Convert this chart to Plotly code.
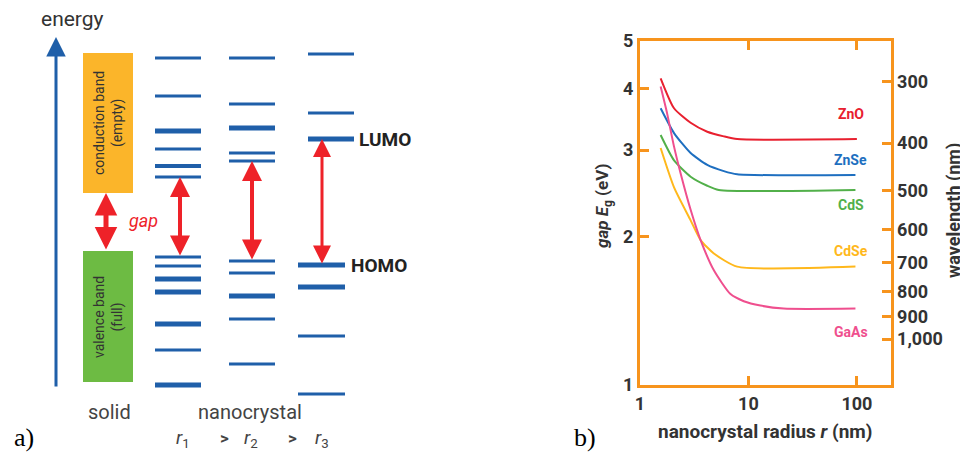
import math
import plotly.graph_objects as go

# ---------------- data: panel b (band gap vs radius) ----------------
zno_r = [1.55, 2.06, 2.93, 4.17, 5.93, 7.87, 100]
zno_e = [4.20, 3.65, 3.41, 3.27, 3.20, 3.16, 3.16]
znse_r = [1.55, 2.06, 2.93, 4.17, 5.93, 7.87, 97]
znse_e = [3.65, 3.25, 2.96, 2.80, 2.72, 2.68, 2.67]
cds_r = [1.55, 2.06, 2.93, 4.17, 5.33, 97]
cds_e = [3.22, 2.86, 2.65, 2.54, 2.49, 2.49]
cdse_r = [1.55, 2.06, 2.93, 3.62, 4.80, 7.87, 97]
cdse_e = [3.03, 2.52, 2.16, 1.97, 1.85, 1.74, 1.74]
gaas_r = [1.55, 1.78, 2.06, 2.37, 2.93, 3.62, 4.80, 6.83, 9.06, 12.9, 21.1, 97]
gaas_e = [4.04, 3.56, 3.05, 2.69, 2.27, 1.97, 1.71, 1.53, 1.48, 1.45, 1.43, 1.43]

materials = ["ZnO", "ZnSe", "CdS", "CdSe", "GaAs"]
colors = ["#e8202f", "#1e6fc0", "#52b04a", "#ffb81c", "#ef4f8e"]
series_r = [zno_r, znse_r, cds_r, cdse_r, gaas_r]
series_e = [zno_e, znse_e, cds_e, cdse_e, gaas_e]

gap_ticks = [1, 2, 3, 4, 5]
radius_ticks = [1, 10, 100]
wavelength_ticks = [300, 400, 500, 600, 700, 800, 900, 1000]
wavelength_labels = ["300", "400", "500", "600", "700", "800", "900", "1,000"]

# ---------------- data: panel a (energy levels, arbitrary units) ----------------
solid_conduction = [207, 347]
solid_valence = [18, 149]
r1_conduction = [342, 304, 269, 251, 234, 223]
r1_conduction_w = [3, 3, 5, 3, 4, 3]
r1_valence = [143, 134, 121, 108, 76, 50, 15]
r1_valence_w = [3, 3, 5, 5, 5, 3, 5]
r2_conduction = [342, 296, 272, 247, 239]
r2_conduction_w = [3, 3, 5, 3, 3]
r2_valence = [139, 127, 104, 81, 36]
r2_valence_w = [3, 3, 5, 3, 3]
r3_conduction = [346, 287, 261]
r3_conduction_w = [3, 3, 5]
r3_valence = [135, 113, 64, 6]
r3_valence_w = [5, 5, 3, 3]

BLUE = "#1f5fa9"
RED = "#ee2229"
ORANGE = "#f7941d"
TXT = "#333333"
FONT = "Roboto, sans-serif"

# page body has an 8px margin: the figure is drawn 8px right/down
W, H, OFF = 960, 447, 8


def px_x(X):
    return (X - OFF) / W


def px_y(Y):
    return (H - (Y - OFF)) / H


fig = go.Figure()

for name, col, rr, ee in zip(materials, colors, series_r, series_e):
    fig.add_trace(go.Scatter(x=rr, y=ee, mode="lines", name=name,
                             line=dict(color=col, width=2, shape="spline", smoothing=0.6),
                             showlegend=False, hoverinfo="skip", xaxis="x", yaxis="y"))

fig.add_trace(go.Scatter(x=[1], y=[1], mode="markers", marker=dict(opacity=0),
                         showlegend=False, hoverinfo="skip", xaxis="x", yaxis="y2"))
fig.add_trace(go.Scatter(x=[100], y=[0], mode="markers", marker=dict(opacity=0),
                         showlegend=False, hoverinfo="skip", xaxis="x2", yaxis="y3"))

tickfont = dict(family=FONT, size=18, color=TXT, weight="bold")
ydom = [px_y(385), px_y(41)]
yr = [0, math.log10(5)]

fig.update_layout(
    width=W, height=H,
    margin=dict(l=0, r=0, t=0, b=0, pad=0, autoexpand=False),
    showlegend=False,
    paper_bgcolor="white", plot_bgcolor="rgba(0,0,0,0)",
    xaxis=dict(type="log", domain=[px_x(640), px_x(890.5)], range=[0, 2.31],
               tickvals=radius_ticks, ticktext=["1", "10", "100"],
               ticks="inside", ticklen=9, tickwidth=3, tickcolor=ORANGE,
               showline=True, linecolor=ORANGE, linewidth=3, mirror="ticks",
               showgrid=False, zeroline=False, tickfont=tickfont, anchor="y", automargin=False),
    yaxis=dict(type="log", domain=ydom, range=yr,
               tickvals=gap_ticks, ticktext=[str(v) for v in gap_ticks],
               ticks="inside", ticklen=9, tickwidth=3, tickcolor=ORANGE,
               showline=True, linecolor=ORANGE, linewidth=3, mirror=True,
               showgrid=False, zeroline=False, tickfont=tickfont, anchor="x", automargin=False),
    yaxis2=dict(type="log", overlaying="y", side="right", range=yr, anchor="x",
                tickvals=[1240 / w for w in wavelength_ticks], ticktext=wavelength_labels,
                ticks="inside", ticklen=9, tickwidth=3, tickcolor=ORANGE,
                showline=True, linecolor=ORANGE, linewidth=3,
                showgrid=False, zeroline=False, tickfont=tickfont, automargin=False),
    # panel a: 1 axis unit = 1 pixel
    xaxis2=dict(domain=[0, 420 / W], range=[OFF, 420 + OFF], visible=False,
                anchor="y3", automargin=False),
    yaxis3=dict(domain=[0, 1], range=[400 - 455, 400 - OFF], visible=False,
                anchor="x2", automargin=False),
)

shapes = []
shapes.append(dict(type="rect", xref="x2", yref="y3", x0=83, x1=133,
                   y0=solid_conduction[0], y1=solid_conduction[1],
                   fillcolor="#fbb52a", line=dict(width=0), layer="below"))
shapes.append(dict(type="rect", xref="x2", yref="y3", x0=83, x1=133,
                   y0=solid_valence[0], y1=solid_valence[1],
                   fillcolor="#6dbb43", line=dict(width=0), layer="below"))


def levels(vals, widths, x0, x1):
    for v, w in zip(vals, widths):
        shapes.append(dict(type="line", xref="x2", yref="y3", x0=x0, x1=x1, y0=v, y1=v,
                           line=dict(color=BLUE, width=w)))


levels(r1_conduction, r1_conduction_w, 155, 201)
levels(r1_valence, r1_valence_w, 155, 201)
levels(r2_conduction, r2_conduction_w, 229, 275)
levels(r2_valence, r2_valence_w, 229, 275)
levels(r3_conduction, r3_conduction_w, 308, 354)
levels(r3_valence, r3_valence_w, 298, 345)
fig.update_layout(shapes=shapes)

ann = []


def arrow(x, y_from, y_to, color, width, both=True, size=1.0):
    ann.append(dict(xref="x2", yref="y3", axref="x2", ayref="y3",
                    x=x, y=y_to, ax=x, ay=y_from, text="", showarrow=True,
                    arrowhead=2, startarrowhead=2, arrowsize=size, startarrowsize=size,
                    arrowwidth=width, arrowcolor=color, standoff=0, startstandoff=0,
                    arrowside="end+start" if both else "end"))


arrow(56, 12, 363, BLUE, 3, both=False, size=1.3)
arrow(106, solid_valence[1], solid_conduction[0], RED, 5, size=0.9)
arrow(180, max(r1_valence), min(r1_conduction), RED, 4, size=1.0)
arrow(252, max(r2_valence), min(r2_conduction), RED, 4, size=1.0)
arrow(322, max(r3_valence), min(r3_conduction), RED, 3, size=1.2)


def text(x, y, s, size=17, color=TXT, xanchor="center", angle=0, family=FONT, weight="normal"):
    ann.append(dict(xref="x2", yref="y3", x=x, y=y, text=s, showarrow=False,
                    xanchor=xanchor, yanchor="middle", textangle=angle,
                    font=dict(family=family, size=size, color=color, weight=weight)))


text(72, 381, "energy", size=21)
text(143, 180, "<i>gap</i>", size=18, color=RED)
text(108, 277, "conduction band<br>(empty)", size=14, angle=-90)
text(108, 83, "valence band<br>(full)", size=14, angle=-90)
text(357, min(r3_conduction), "LUMO", size=19, color="#222222", xanchor="left", weight="bold")
text(349, max(r3_valence), "HOMO", size=19, color="#222222", xanchor="left", weight="bold")
text(109, -12, "solid", size=20, color="#444444")
text(250, -12, "nanocrystal", size=20, color="#444444")
text(183, -38, "<i>r</i><sub>1</sub>", size=19, color="#444444")
text(224, -38, "&gt;", size=17, color="#444444", weight="bold")
text(251, -38, "<i>r</i><sub>2</sub>", size=19, color="#444444")
text(292, -38, "&gt;", size=17, color="#444444", weight="bold")
text(322, -38, "<i>r</i><sub>3</sub>", size=19, color="#444444")


def ptext(X, Y, s, size, angle=0, family=FONT, weight="bold", color=TXT):
    ann.append(dict(xref="paper", yref="paper", x=px_x(X), y=px_y(Y), text=s,
                    showarrow=False, xanchor="center", yanchor="middle", textangle=angle,
                    font=dict(family=family, size=size, color=color, weight=weight)))


SERIF = "Liberation Serif, Times New Roman, serif"
ptext(24, 437, "a)", 26, family=SERIF, weight="normal", color="black")
ptext(585, 437, "b)", 26, family=SERIF, weight="normal", color="black")
ptext(765, 431, "nanocrystal radius <i>r</i> (nm)", 19)
ptext(604, 207, "<i>gap E</i><sub>g</sub> (eV)", 17, angle=-90)
ptext(954, 211, "wavelength (nm)", 18, angle=-90)

label_shift = [25, 15, -15, 16, -23]
for name, col, rr, ee, sh in zip(materials, colors, series_r, series_e, label_shift):
    ann.append(dict(xref="x", yref="y", x=math.log10(88), y=math.log10(ee[-1]),
                    text=name, showarrow=False, xanchor="center", yanchor="middle",
                    yshift=sh, font=dict(family=FONT, size=14, color=col, weight="bold")))

fig.update_layout(annotations=ann)
fig.write_html("out.html")
